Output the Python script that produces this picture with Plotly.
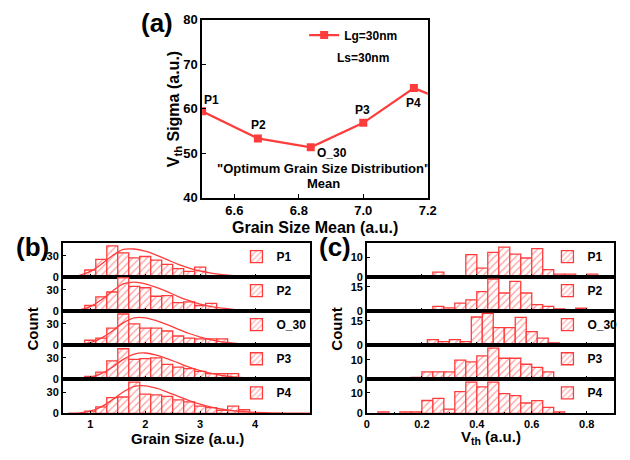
import plotly.graph_objects as go

W, H = 630, 460
RED = "#ff3c3c"
FONT = "Liberation Sans, Arial, sans-serif"

# ---------------- (a) data ----------------
a_mean = [6.5, 6.673, 6.837, 7.0, 7.157, 7.33]
a_sigma = [59.4, 53.3, 51.3, 56.8, 64.6, 59.6]
a_point_labels = ["P1", "P2", "O_30", "P3", "P4"]
a_xticks = [6.6, 6.8, 7.0, 7.2]
a_yticks = [40, 50, 60, 70, 80]

# ---------------- (b) data : grain size histograms ----------------
b_names = ["P1", "P2", "O_30", "P3", "P4"]
b_centers_P1 = [1.0, 1.2, 1.4, 1.6, 1.8, 2.0, 2.2, 2.4, 2.6, 2.8, 3.0]
b_counts_P1 = [10, 25, 44, 34, 27, 29, 24, 18, 12, 8, 14]
b_centers_P2 = [1.0, 1.2, 1.4, 1.6, 1.8, 2.0, 2.2, 2.4, 2.6, 2.8, 3.0, 3.2]
b_counts_P2 = [8, 20, 27, 47, 35, 33, 21, 22, 12, 13, 8, 11]
b_centers_O30 = [1.0, 1.2, 1.4, 1.6, 1.8, 2.0, 2.2, 2.4, 2.6, 2.8, 3.0, 3.2, 3.4]
b_counts_O30 = [7, 10, 24, 44, 30, 24, 24, 20, 13, 10, 9, 9, 9]
b_centers_P3 = [1.0, 1.2, 1.4, 1.6, 1.8, 2.0, 2.2, 2.4, 2.6, 2.8, 3.0, 3.2, 3.4, 3.6]
b_counts_P3 = [4, 10, 26, 43, 28, 29, 30, 21, 17, 15, 11, 8, 8, 8]
b_centers_P4 = [1.0, 1.2, 1.4, 1.6, 1.8, 2.0, 2.2, 2.4, 2.6, 2.8, 3.0, 3.2, 3.4, 3.6, 3.8]
b_counts_P4 = [3, 9, 22, 23, 44, 27, 26, 24, 19, 16, 10, 8, 4, 10, 5]

# fitted distribution curves
fit_x = [0.6, 0.8, 1.0, 1.2, 1.4, 1.6, 1.8, 2.0, 2.2, 2.4, 2.6, 2.8, 3.0,
         3.2, 3.4, 3.6, 3.8, 4.0, 4.3, 4.6, 5.0]
fit_P1 = [0.4, 2.4, 8, 18, 30, 39, 39.6, 36.5, 31, 24.5, 18, 12.8, 8.6,
          5.6, 3.6, 2.2, 1.4, 0.8, 0.4, 0.15, 0.05]
fit_P2 = [0.2, 1.8, 6.5, 16, 28, 38.5, 40.9, 38.5, 33.5, 27.5, 20.5, 14.8, 10,
          6.5, 4.2, 2.6, 1.5, 0.9, 0.5, 0.2, 0.05]
fit_O30 = [0.1, 0.8, 3.5, 10, 20, 31.5, 38.5, 38.5, 34.5, 29, 22.5, 16.5, 11.5,
           7.5, 4.8, 3, 1.8, 1.1, 0.6, 0.25, 0.1]
fit_P3 = [0.05, 0.5, 2.5, 8, 17, 28, 35.5, 37, 34, 29, 23, 17, 12.2,
          8.2, 5.3, 3.4, 2.1, 1.3, 0.6, 0.3, 0.1]
fit_P4 = [0.05, 0.6, 3, 9, 19, 30, 38, 38.8, 35.5, 30, 24, 18, 12.8,
          8.8, 5.7, 3.6, 2.2, 1.4, 0.7, 0.3, 0.1]

# ---------------- (c) data : Vth histograms ----------------
c_centers_P1 = [0.22, 0.26, 0.30, 0.34, 0.38, 0.42, 0.46, 0.50, 0.54, 0.58, 0.62, 0.66, 0.70, 0.74, 0.78, 0.82]
c_counts_P1 = [0.8, 2.6, 0.8, 0.8, 11.5, 4.6, 12.7, 15.4, 11.8, 9.8, 14.6, 3.8, 1.5, 1.5, 0.7, 1.5]
c_centers_P2 = [0.26, 0.30, 0.34, 0.38, 0.42, 0.46, 0.50, 0.54, 0.58, 0.62, 0.66, 0.70, 0.74, 0.78, 0.82]
c_counts_P2 = [3, 2, 5, 7, 12, 19.8, 11.2, 18.4, 11.2, 4, 3, 1.4, 0.5, 1.8, 1]
c_centers_O30 = [0.12, 0.24, 0.28, 0.32, 0.36, 0.40, 0.44, 0.48, 0.52, 0.56, 0.60, 0.64, 0.68, 0.72]
c_counts_O30 = [0.8, 3.4, 2.2, 3.4, 2.2, 17.4, 19.6, 10.9, 10.9, 17.2, 8.4, 4.4, 1.4, 0.5]
c_centers_P3 = [0.18, 0.22, 0.26, 0.30, 0.34, 0.38, 0.42, 0.46, 0.50, 0.54, 0.58, 0.62, 0.66]
c_counts_P3 = [1, 3.8, 3.8, 3.8, 9.8, 8.9, 12, 16, 10.8, 10.8, 7.7, 6.1, 3.8]
c_centers_P4 = [0.06, 0.14, 0.18, 0.22, 0.26, 0.30, 0.34, 0.38, 0.42, 0.46, 0.50, 0.54, 0.58, 0.62, 0.66, 0.70]
c_counts_P4 = [0.7, 0.7, 0.7, 6.2, 7.2, 2, 10.5, 15.1, 12.8, 15.1, 9.5, 8.6, 5, 6.1, 2.9, 0.7]

b_sets = [(b_centers_P1, b_counts_P1, fit_P1), (b_centers_P2, b_counts_P2, fit_P2),
          (b_centers_O30, b_counts_O30, fit_O30), (b_centers_P3, b_counts_P3, fit_P3),
          (b_centers_P4, b_counts_P4, fit_P4)]
c_sets = [(c_centers_P1, c_counts_P1), (c_centers_P2, c_counts_P2),
          (c_centers_O30, c_counts_O30), (c_centers_P3, c_counts_P3),
          (c_centers_P4, c_counts_P4)]
c_yranges = [17.5, 21, 21, 17.5, 16.5]
c_yticks = [[0, 10], [0, 15], [0, 15], [0, 10], [0, 10]]
b_yrange = 48
b_yticks = [0, 30]


def fx(p):
    return p / W


def fy(p):
    return 1 - p / H


fig = go.Figure()
layout = dict(
    width=W, height=H, margin=dict(l=0, r=0, t=0, b=0),
    paper_bgcolor="white", plot_bgcolor="white",
    font=dict(family=FONT, color="black"),
    barmode="overlay", showlegend=True,
)

axis_common = dict(showline=True, mirror=True, linecolor="black", linewidth=1.6,
                   showgrid=False, zeroline=False, ticks="inside",
                   tickcolor="black")

# ---- panel (a)
fig.add_trace(go.Scatter(
    x=a_mean, y=a_sigma, mode="lines+markers", name="Lg=30nm",
    line=dict(color=RED, width=2.2), marker=dict(symbol="square", size=8, color=RED),
    xaxis="x", yaxis="y", legend="legend"))
layout["xaxis"] = dict(domain=[fx(203), fx(433)], anchor="y", range=[6.5, 7.2],
                       tickvals=a_xticks, ticktext=[f"{v:.1f}" for v in a_xticks],
                       ticklen=4, tickfont=dict(size=13, weight="bold"), **axis_common)
layout["yaxis"] = dict(domain=[fy(197), fy(13)], anchor="x", range=[40, 80],
                       tickvals=a_yticks, ticklen=4,
                       tickfont=dict(size=13, weight="bold"), **axis_common)
layout["legend"] = dict(x=fx(307), y=fy(14), xanchor="left", yanchor="top",
                        bgcolor="rgba(0,0,0,0)", font=dict(size=12, weight="bold"),
                        itemwidth=30)

annotations = []
shifts = [(9, 11), (1, 13), (21, -6), (-1, 13), (0, -15)]
for lab, xm, ys, (dx, dy) in zip(a_point_labels, a_mean, a_sigma, shifts):
    annotations.append(dict(x=xm, y=ys, xref="x", yref="y", text=f"<b>{lab}</b>",
                            showarrow=False, xshift=dx, yshift=dy,
                            font=dict(size=12)))

panel_top = 244.0
panel_h = 35.2
bx = [fx(61), fx(313)]
cx = [fx(371), fx(623)]

for i in range(5):
    top = panel_top + panel_h * i
    bot = top + panel_h
    yd = [fy(bot), fy(top)]
    # (b)
    n = 2 + i
    cen, cnt, fit = b_sets[i]
    fig.add_trace(go.Bar(
        x=cen, y=cnt, width=0.2, name=b_names[i], xaxis=f"x{n}", yaxis=f"y{n}",
        marker=dict(color="white", line=dict(color=RED, width=1.3),
                    pattern=dict(shape="/", fgcolor=RED, bgcolor="white",
                                 size=5, solidity=0.25)),
        legend=f"legend{n}"))
    fig.add_trace(go.Scatter(
        x=fit_x, y=fit, mode="lines", line=dict(color=RED, width=1.3, shape="spline"),
        xaxis=f"x{n}", yaxis=f"y{n}", showlegend=False))
    layout[f"xaxis{n}"] = dict(domain=bx, anchor=f"y{n}", range=[0.5, 5],
                               tickvals=[1, 2, 3, 4], showticklabels=(i == 4),
                               ticklen=3, tickfont=dict(size=11, weight="bold"),
                               minor=dict(dtick=0.5, ticks="inside", ticklen=2,
                                          tickcolor="black"),
                               **axis_common)
    layout[f"yaxis{n}"] = dict(domain=yd, anchor=f"x{n}", range=[0, b_yrange],
                               tickvals=b_yticks, ticklen=3,
                               tickfont=dict(size=11, weight="bold"), **axis_common)
    layout[f"legend{n}"] = dict(x=fx(238), y=fy(top + 14), xanchor="left",
                                yanchor="middle", bgcolor="rgba(0,0,0,0)",
                                font=dict(size=12, weight="bold"))
    # (c)
    m = 7 + i
    cen, cnt = c_sets[i]
    fig.add_trace(go.Bar(
        x=cen, y=cnt, width=0.04, name=b_names[i], xaxis=f"x{m}", yaxis=f"y{m}",
        marker=dict(color="white", line=dict(color=RED, width=1.3),
                    pattern=dict(shape="/", fgcolor=RED, bgcolor="white",
                                 size=5, solidity=0.25)),
        legend=f"legend{m}"))
    layout[f"xaxis{m}"] = dict(domain=cx, anchor=f"y{m}", range=[0, 0.9],
                               tickvals=[0, 0.2, 0.4, 0.6, 0.8],
                               ticktext=["0", "0.2", "0.4", "0.6", "0.8"],
                               showticklabels=(i == 4),
                               ticklen=3, tickfont=dict(size=11, weight="bold"),
                               minor=dict(dtick=0.1, ticks="inside", ticklen=2,
                                          tickcolor="black"),
                               **axis_common)
    layout[f"yaxis{m}"] = dict(domain=yd, anchor=f"x{m}", range=[0, c_yranges[i]],
                               tickvals=c_yticks[i], ticklen=3,
                               tickfont=dict(size=11, weight="bold"), **axis_common)
    layout[f"legend{m}"] = dict(x=fx(555), y=fy(top + 14), xanchor="left",
                                yanchor="middle", bgcolor="rgba(0,0,0,0)",
                                font=dict(size=12, weight="bold"))


def ann(text, xp, yp, size, angle=0):
    annotations.append(dict(x=fx(xp), y=fy(yp), xref="paper", yref="paper",
                            text=text, showarrow=False, textangle=angle,
                            xanchor="center", yanchor="middle",
                            font=dict(size=size, family=FONT, color="black")))


ann("<b>(a)</b>", 157, 17, 26)
ann("<b>(b)</b>", 30, 248, 26)
ann("<b>(c)</b>", 338, 248, 26)
ann("<b>V<sub>th</sub> Sigma (a.u.)</b>", 175, 106, 16, -90)
ann("<b>Grain Size Mean (a.u.)</b>", 318, 228, 16)
ann("<b>Ls=30nm</b>", 367, 53, 12)
ann("<b>\"Optimum Grain Size Distribution\"</b>", 327, 167, 13)
ann("<b>Mean</b>", 327, 182, 13)
ann("<b>Count</b>", 30, 333, 15, -90)
ann("<b>Count</b>", 340, 333, 15, -90)
ann("<b>Grain Size (a.u.)</b>", 188, 446, 15)
ann("<b>V<sub>th</sub> (a.u.)</b>", 497, 445, 15)

layout["annotations"] = annotations
fig.update_layout(**layout)
fig.write_html("out.html")
